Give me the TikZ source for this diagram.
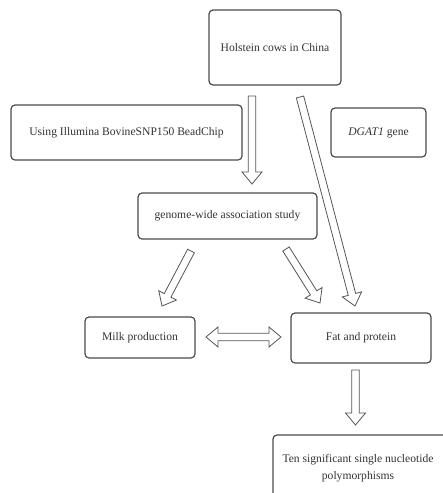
\documentclass[tikz,border=0pt]{standalone}
\usepackage{fontspec}
\setmainfont{Liberation Serif}
\usetikzlibrary{calc}

\definecolor{boxline}{HTML}{4A4A4A}
\definecolor{boxtext}{HTML}{333333}
\definecolor{arrline}{HTML}{555555}

\tikzset{
  box/.style={draw=boxline, line width=1.2pt, rounded corners=4pt, text=boxtext,
    align=center, inner sep=0pt, font=\fontsize{11.6}{17.5}\selectfont},
  hollow/.style={draw=arrline, line width=0.8pt, fill=white, line join=miter}
}

% hollow block arrow from #1 to #2
\newcommand{\blockarrow}[2]{%
  \coordinate (neck) at ($(#2)!12pt!(#1)$);
  \draw[hollow] ($(#1)!3.8pt!90:(#2)$) -- ($(neck)!3.8pt!90:(#2)$)
    -- ($(neck)!10pt!90:(#2)$) -- (#2) -- ($(neck)!10pt!-90:(#2)$)
    -- ($(neck)!3.8pt!-90:(#2)$) -- ($(#1)!3.8pt!-90:(#2)$) -- cycle;
}
% hollow block arrow with two heads
\newcommand{\blockarrowboth}[2]{%
  \coordinate (neckA) at ($(#1)!12pt!(#2)$);
  \coordinate (neckB) at ($(#2)!12pt!(#1)$);
  \draw[hollow] (#1) -- ($(neckA)!10pt!-90:(#2)$) -- ($(neckA)!3.8pt!-90:(#2)$)
    -- ($(neckB)!3.8pt!90:(#1)$) -- ($(neckB)!10pt!90:(#1)$) -- (#2)
    -- ($(neckB)!10pt!-90:(#1)$) -- ($(neckB)!3.8pt!-90:(#1)$)
    -- ($(neckA)!3.8pt!90:(#2)$) -- ($(neckA)!10pt!90:(#2)$) -- cycle;
}

\begin{document}
\begin{tikzpicture}[x=1pt, y=-1pt]
\useasboundingbox (0,0) rectangle (443,493);

\node[box, minimum width=132pt, minimum height=75pt] (holstein) at (275,47.5) {Holstein cows in China};
\node[box, minimum width=231pt, minimum height=55pt] (illumina) at (126.5,132.5) {Using Illumina BovineSNP150 BeadChip};
\node[box, minimum width=95pt, minimum height=49pt] (dgat) at (378.5,132.5) {\textit{DGAT1} gene};
\node[box, minimum width=179pt, minimum height=46pt] (gwas) at (227.5,216) {genome-wide association study};
\node[box, minimum width=110pt, minimum height=41pt] (milk) at (140,337.5) {Milk production};
\node[box, minimum width=140pt, minimum height=50pt] (fat) at (361,338) {Fat and protein};
\node[box, minimum width=178pt, minimum height=66pt] (ten) at (362,468) {\hspace*{-8pt}Ten significant single nucleotide\\\hspace*{-8pt}polymorphisms};

% arrow ends
\coordinate (h1) at (252,96);
\coordinate (g1) at (252,184);
\coordinate (h2) at (300,97);
\coordinate (f2) at (355,306);
\coordinate (g3) at (191,251);
\coordinate (m3) at (162,306);
\coordinate (g4) at (286,249);
\coordinate (f4) at (320,303);
\coordinate (m5) at (206,337);
\coordinate (f5) at (281,337);
\coordinate (f6) at (355.5,370);
\coordinate (t6) at (355.5,425);

\blockarrow{h1}{g1}
\blockarrow{h2}{f2}
\blockarrow{g3}{m3}
\blockarrow{g4}{f4}
\blockarrowboth{m5}{f5}
\blockarrow{f6}{t6}
\end{tikzpicture}
\end{document}
